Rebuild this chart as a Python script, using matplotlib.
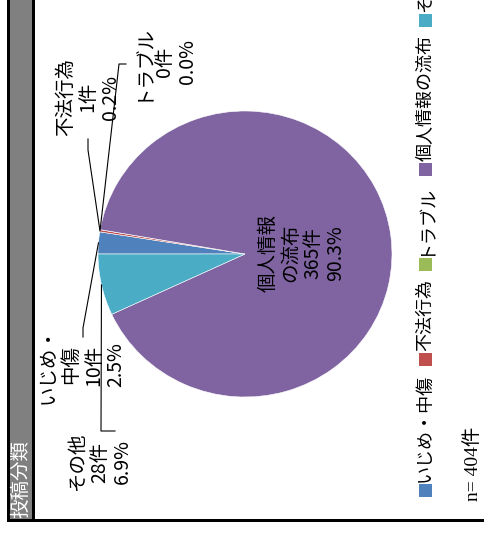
import numpy as np
import matplotlib
matplotlib.use("Agg")
import matplotlib.pyplot as plt
from matplotlib.patches import Rectangle

plt.rcParams['font.family'] = ['Noto Sans CJK JP', 'DejaVu Sans']

# data
categories = ["いじめ・中傷", "不法行為", "トラブル", "個人情報の流布", "その他"]
label_names = ["いじめ・\n中傷", "不法行為", "トラブル", "個人情報\nの流布", "その他"]
counts = [10, 1, 0, 365, 28]
percents = ["2.5%", "0.2%", "0.0%", "90.3%", "6.9%"]
colors = ["#4F81BD", "#C0504D", "#9BBB59", "#8064A2", "#4BACC6"]
title = "投稿分類"
n_text = "n= 404件"

W, H = 485, 536
fig = plt.figure(figsize=(W / 100, H / 100), dpi=100)

# pie
cx0, cy0, rx, ry = 245, 254, 147, 143
ax = fig.add_axes([(cx0 - rx) / W, (H - cy0 - ry) / H, 2 * rx / W, 2 * ry / H])
wedges, _ = ax.pie(counts, colors=colors, startangle=180, counterclock=False,
                   wedgeprops=dict(edgecolor="white", linewidth=0.4))
ax.set_aspect("auto")
ax.set_xlim(-1, 1)
ax.set_ylim(-1, 1)
ax.axis("off")

# overlay in pixel coords (y down), on top of the pie
ax0 = fig.add_axes([0, 0, 1, 1])
ax0.set_zorder(2)
ax0.set_xlim(0, W)
ax0.set_ylim(H, 0)
ax0.axis("off")

# frame + title bar (chart is drawn rotated by 90 degrees)
ax0.add_patch(Rectangle((10, 0), 22, 519, color="#808080", lw=0))
ax0.add_patch(Rectangle((7, 0), 3, 522, color="black", lw=0))
ax0.add_patch(Rectangle((32, 0), 3, 519, color="black", lw=0))
ax0.add_patch(Rectangle((7, 519), W - 7, 3, color="black", lw=0))
ax0.text(21, 518, title, rotation=90, ha="center", va="bottom", color="white",
         fontsize=14, family=["Liberation Serif", "Noto Sans CJK JP"])

to_px = ax.transData + ax0.transData.inverted()


def edge_point(w):
    a = np.deg2rad((w.theta1 + w.theta2) / 2)
    return to_px.transform((np.cos(a), np.sin(a)))


lab_font = ["Liberation Sans Narrow", "Noto Sans CJK JP"]
lab_pos = [(82, 365), (88, 97), (165, 62), (302, 253), (100, 462)]
leader = [
    [(83, 328), (83, 337)],
    [(88, 150), (88, 139)],
    [(119, 64), (126, 64)],
    None,
    [(101, 431), (115, 431)],
]
for i, w in enumerate(wedges):
    txt = f"{label_names[i]}\n{counts[i]}件\n{percents[i]}"
    x, y = lab_pos[i]
    ax0.text(x, y, txt, rotation=90, ha="center", va="center", multialignment="center",
             fontsize=14, linespacing=1.1, family=lab_font)
    if leader[i] is not None:
        sx, sy = edge_point(w)
        (x1, y1), (x2, y2) = leader[i]
        ax0.plot([sx, x1, x2], [sy, y1, y2], color="black", lw=0.8)

# legend (rotated), laid out from bottom upward
fig.canvas.draw()
r = fig.canvas.get_renderer()
inv = ax0.transData.inverted()
y = 497
for name, c in zip(categories, colors):
    ax0.add_patch(Rectangle((419, y - 13), 13, 13, color=c, lw=0))
    t = ax0.text(425, y - 15, name, rotation=90, ha="center", va="bottom",
                 fontsize=13, family=lab_font)
    bb = t.get_window_extent(r)
    top = inv.transform((0, bb.y1))[1]
    y = top - 8

ax0.text(473, 501, n_text, rotation=90, ha="center", va="bottom", fontsize=14,
         family=["Liberation Serif", "Noto Sans CJK JP"])

fig.savefig("out.png", dpi=100)
